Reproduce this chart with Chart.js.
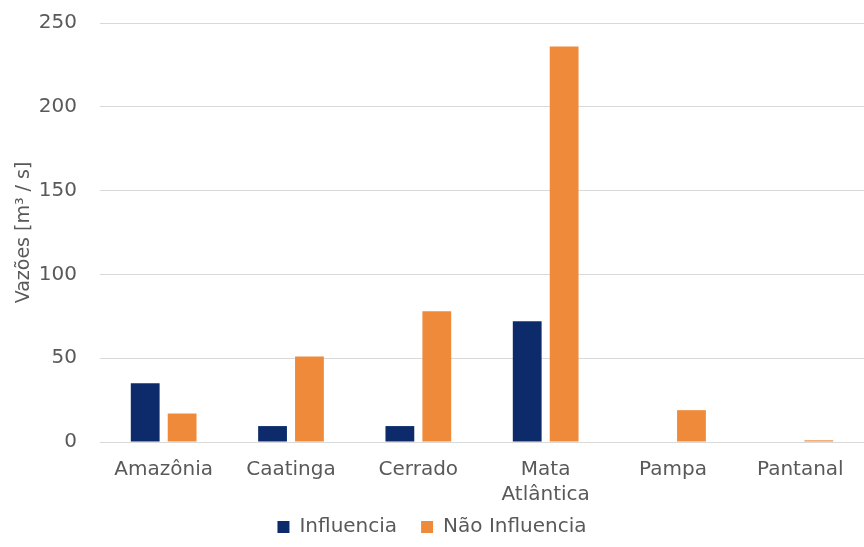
<!DOCTYPE html>
<html>
<head>
  <meta charset="utf-8">
  <script src="https://cdn.jsdelivr.net/npm/chart.js"></script>
  <title>Vazões por bioma</title>
  <style>
    html, body { margin: 0; padding: 0; background: #ffffff; }
    .chart-container { position: relative; width: 864px; height: 547px; }
  </style>
</head>
<body>
  <div class="chart-container">
    <canvas id="vazoesChart"></canvas>
  </div>
<script>
// dados
const biomas = ['Amazônia', 'Caatinga', 'Cerrado', ['Mata', 'Atlântica'], 'Pampa', 'Pantanal'];
const influencia = [35, 9.5, 9.5, 72, 0, 0];
const naoInfluencia = [17, 51, 78, 236, 19, 1];
const yTicks = [0, 50, 100, 150, 200, 250];

const cinza = '#595959';
const fonte = 'DejaVu Sans';
const recuoLegenda = 14;

// a legenda fica mais colada aos rótulos do eixo x
const ajusteLegenda = {
  id: 'ajusteLegenda',
  beforeLayout(chart) {
    const l = chart.legend;
    if (l && !l._ajustada) {
      const fit = l.fit;
      l.fit = function () { fit.call(this); this.height -= recuoLegenda; };
      l._ajustada = true;
    }
  },
  afterLayout(chart) {
    const l = chart.legend;
    if (l) { l.top -= recuoLegenda; l.bottom -= recuoLegenda; }
  }
};

new Chart(document.getElementById('vazoesChart'), {
  type: 'bar',
  data: {
    labels: biomas,
    datasets: [
      {
        label: 'Influencia',
        data: influencia,
        backgroundColor: '#0d2b6b',
        barPercentage: 0.78,
        categoryPercentage: 0.58
      },
      {
        label: 'Não Influencia',
        data: naoInfluencia,
        backgroundColor: '#ef8a3b',
        barPercentage: 0.78,
        categoryPercentage: 0.58
      }
    ]
  },
  options: {
    responsive: true,
    maintainAspectRatio: false,
    animation: false,
    layout: { padding: 0 },
    scales: {
      x: {
        afterFit: s => { s.height = 65; },
        grid: { display: false, drawTicks: false },
        border: { display: true, color: '#d9d9d9', width: 1 },
        ticks: {
          color: cinza,
          padding: 15,
          font: { family: fonte, size: 20, lineHeight: 1.25 }
        }
      },
      y: {
        min: 0,
        max: 250,
        afterBuildTicks: axis => { axis.ticks = yTicks.map(v => ({ value: v })); },
        afterFit: s => { s.width = 100; s.paddingTop = 23; },
        grid: { color: '#d9d9d9', drawTicks: false },
        border: { display: false },
        ticks: {
          color: cinza,
          padding: 23,
          font: { family: fonte, size: 20 }
        },
        title: {
          display: true,
          text: 'Vazões [m³ / s]',
          color: cinza,
          padding: { top: 13, bottom: 0 },
          font: { family: fonte, size: 19 }
        }
      }
    },
    plugins: {
      legend: {
        position: 'bottom',
        labels: {
          color: cinza,
          boxWidth: 12,
          boxHeight: 12,
          padding: 24,
          font: { family: fonte, size: 20 }
        }
      },
      tooltip: { enabled: false }
    }
  },
  plugins: [ajusteLegenda]
});
</script>
</body>
</html>
